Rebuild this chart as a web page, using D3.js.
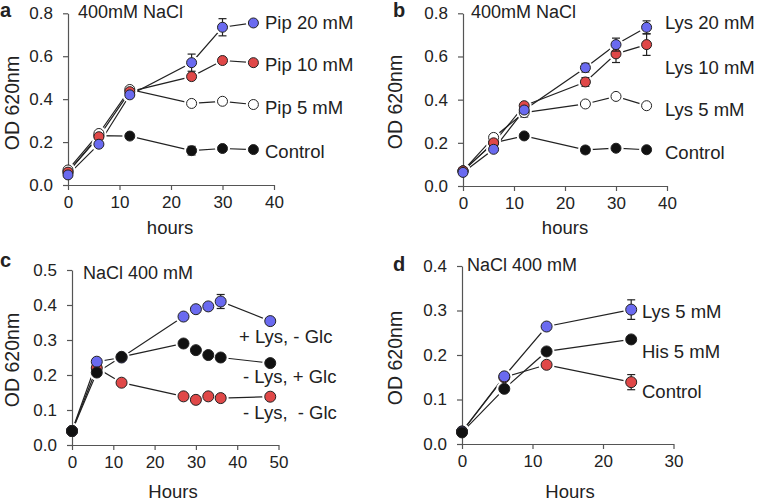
<!DOCTYPE html>
<html>
<head>
<meta charset="utf-8">
<script src="https://cdn.jsdelivr.net/npm/d3@7"></script>
<style>
body { margin: 0; background: #fff; }
text { font-family: "Liberation Sans", Arial, sans-serif; fill: #222; }
</style>
</head>
<body>
<div id="d3container"></div>
<script>
// panel a: piperidine, 400mM NaCl
var aHours = [0, 6, 12, 24, 30, 36];
var aControl = [0.06, 0.23, 0.228, 0.16, 0.17, 0.165];
var aControlErr = [0, 0, 0, 0.02, 0, 0];
var aPip5 = [0.07, 0.24, 0.445, 0.38, 0.39, 0.375];
var aPip10 = [0.06, 0.225, 0.435, 0.505, 0.58, 0.57];
var aPip20 = [0.047, 0.19, 0.42, 0.57, 0.735, 0.755];
var aPip20Err = [0, 0, 0, 0.04, 0.04, 0];

// panel b: lysine, 400mM NaCl
var bHours = [0, 6, 12, 24, 30, 36];
var bControl = [0.07, 0.2, 0.232, 0.167, 0.175, 0.168];
var bControlErr = [0, 0, 0, 0.015, 0, 0];
var bLys5 = [0.07, 0.225, 0.34, 0.38, 0.415, 0.372];
var bLys5Err = [0, 0, 0.02, 0, 0, 0];
var bLys10 = [0.07, 0.2, 0.372, 0.482, 0.612, 0.655];
var bLys10Err = [0, 0, 0, 0.02, 0.04, 0.05];
var bLys20 = [0.063, 0.17, 0.352, 0.548, 0.655, 0.735];
var bLys20Err = [0, 0, 0, 0.02, 0.03, 0.03];

// panel c: lysine / glucose
var cHours = [0, 6, 12, 27, 30, 33, 36, 48];
var cNoLysNoGlc = [0.04, 0.22, 0.178, 0.139, 0.129, 0.139, 0.134, 0.138];
var cLysNoGlc = [0.04, 0.238, 0.25, 0.367, 0.388, 0.396, 0.41, 0.354];
var cLysNoGlcErr = [0, 0, 0, 0, 0, 0, 0.02, 0];
var cNoLysGlc = [0.04, 0.207, 0.252, 0.29, 0.271, 0.257, 0.25, 0.234];

// panel d: lysine vs histidine
var dHours = [0, 6, 12, 24];
var dControl = [0.028, 0.15, 0.178, 0.139];
var dControlErr = [0, 0, 0, 0.017];
var dLys5 = [0.028, 0.152, 0.264, 0.302];
var dLys5Err = [0, 0, 0, 0.022];
var dHis5 = [0.026, 0.124, 0.208, 0.235];

var blue = '#6a6af0', red = '#e04848', black = '#111', white = '#fff';

var svg = d3.select('#d3container')
    .append('svg')
    .attr('width', 757)
    .attr('height', 503);

function drawPanel(p) {
    var x = d3.scaleLinear().domain([0, p.xMax]).range([p.x0, p.x1]);
    var y = d3.scaleLinear().domain([0, p.yMax]).range([p.y0, p.y1]);
    var g = svg.append('g');

    var line = d3.line()
        .x(function (d) { return x(d.t); })
        .y(function (d) { return y(d.v); });

    var series = p.series.map(function (s) {
        return {
            fill: s.fill,
            pts: p.hours.map(function (t, i) {
                return {t: t, v: s.values[i], e: s.err ? s.err[i] : 0};
            })
        };
    });

    series.forEach(function (s) {
        g.append('path')
            .attr('d', line(s.pts))
            .attr('fill', 'none')
            .attr('stroke', '#222')
            .attr('stroke-width', 1.2);
    });
    // white rings so segments stop short of the markers
    series.forEach(function (s) {
        g.selectAll(null).data(s.pts).enter().append('circle')
            .attr('cx', function (d) { return x(d.t); })
            .attr('cy', function (d) { return y(d.v); })
            .attr('r', p.r + 2.5)
            .attr('fill', white);
    });

    var xAxis = d3.axisBottom(x).tickValues(d3.range(0, p.xMax + 1, 10))
        .tickSize(5).tickSizeOuter(0).tickPadding(6);
    var yAxis = d3.axisLeft(y).ticks(p.yMax / p.yStep).tickFormat(d3.format('.1f'))
        .tickSize(5).tickSizeOuter(0).tickPadding(10);

    var gx = g.append('g').attr('transform', 'translate(0,' + p.y0 + ')').call(xAxis);
    var gy = g.append('g').attr('transform', 'translate(' + p.x0 + ',0)').call(yAxis);
    [gx, gy].forEach(function (a) {
        a.selectAll('path, line').attr('stroke', '#555').attr('stroke-width', 1.2);
        a.selectAll('text').style('font-size', '17px').attr('fill', '#222')
            .style('font-family', '"Liberation Sans", Arial, sans-serif');
    });

    series.forEach(function (s) {
        var eb = s.pts.filter(function (d) { return d.e > 0; });
        eb.forEach(function (d) {
            var cx = x(d.t);
            g.append('line').attr('x1', cx).attr('x2', cx)
                .attr('y1', y(d.v - d.e)).attr('y2', y(d.v + d.e))
                .attr('stroke', '#222').attr('stroke-width', 1.2);
            [d.v - d.e, d.v + d.e].forEach(function (v) {
                g.append('line').attr('x1', cx - 4).attr('x2', cx + 4)
                    .attr('y1', y(v)).attr('y2', y(v))
                    .attr('stroke', '#222').attr('stroke-width', 1.2);
            });
        });
        g.selectAll(null).data(s.pts).enter().append('circle')
            .attr('cx', function (d) { return x(d.t); })
            .attr('cy', function (d) { return y(d.v); })
            .attr('r', p.r)
            .attr('fill', s.fill)
            .attr('stroke', '#222')
            .attr('stroke-width', 1);
    });

    p.labels.forEach(function (l) {
        g.append('text').attr('x', l[1]).attr('y', l[2])
            .attr('dy', '0.35em').style('font-size', '18.5px')
            .style('white-space', 'pre').text(l[0]);
    });

    g.append('text').attr('x', p.letter[0]).attr('y', p.letter[1])
        .attr('dy', '0.35em').style('font-size', '20px').style('font-weight', 'bold')
        .text(p.letter[2]);
    g.append('text').attr('x', p.title[0]).attr('y', p.title[1])
        .attr('dy', '0.35em').style('font-size', '18px').text(p.title[2]);
    g.append('text').attr('transform', 'translate(' + p.ylab[0] + ',' + p.ylab[1] + ') rotate(-90)')
        .attr('text-anchor', 'middle').attr('dy', '0.35em').style('font-size', '19.5px')
        .text('OD 620nm');
    g.append('text').attr('x', p.xlab[0]).attr('y', p.xlab[1])
        .attr('text-anchor', 'middle').attr('dy', '0.35em').style('font-size', '18.5px')
        .text(p.xlab[2]);
}

drawPanel({
    x0: 68, x1: 274, y0: 185, y1: 13.3, xMax: 40, yMax: 0.8, yStep: 0.2, r: 5,
    hours: aHours,
    series: [
        {values: aControl, err: aControlErr, fill: black},
        {values: aPip5, fill: white},
        {values: aPip10, fill: red},
        {values: aPip20, err: aPip20Err, fill: blue}
    ],
    labels: [['Pip 20 mM', 265, 23], ['Pip 10 mM', 265, 65], ['Pip 5 mM', 265, 108], ['Control', 265, 152]],
    letter: [0, 10, 'a'], title: [78, 12, '400mM NaCl'], ylab: [12, 103], xlab: [170, 228, 'hours']
});

drawPanel({
    x0: 463, x1: 667, y0: 186, y1: 13.3, xMax: 40, yMax: 0.8, yStep: 0.2, r: 5,
    hours: bHours,
    series: [
        {values: bControl, err: bControlErr, fill: black},
        {values: bLys5, err: bLys5Err, fill: white},
        {values: bLys10, err: bLys10Err, fill: red},
        {values: bLys20, err: bLys20Err, fill: blue}
    ],
    labels: [['Lys 20 mM', 665, 23], ['Lys 10 mM', 665, 68], ['Lys 5 mM', 665, 110], ['Control', 665, 153]],
    letter: [393, 10, 'b'], title: [471, 12, '400mM NaCl'], ylab: [395, 102], xlab: [565, 228, 'hours']
});

drawPanel({
    x0: 72, x1: 278.5, y0: 445, y1: 270, xMax: 50, yMax: 0.5, yStep: 0.1, r: 5.5,
    hours: cHours,
    series: [
        {values: cNoLysNoGlc, fill: red},
        {values: cLysNoGlc, err: cLysNoGlcErr, fill: blue},
        {values: cNoLysGlc, fill: black}
    ],
    labels: [['+ Lys, - Glc', 239, 337], ['- Lys, + Glc', 243, 377], ['- Lys,  - Glc', 243, 413]],
    letter: [0, 260, 'c'], title: [83, 273, 'NaCl 400 mM'], ylab: [12, 360], xlab: [173, 492, 'Hours']
});

drawPanel({
    x0: 462, x1: 673.5, y0: 444, y1: 266, xMax: 30, yMax: 0.4, yStep: 0.1, r: 5.5,
    hours: dHours,
    series: [
        {values: dControl, err: dControlErr, fill: red},
        {values: dLys5, err: dLys5Err, fill: blue},
        {values: dHis5, fill: black}
    ],
    labels: [['Lys 5 mM', 642, 312], ['His 5 mM', 642, 352], ['Control', 642, 392]],
    letter: [393, 264, 'd'], title: [467, 265, 'NaCl 400 mM'], ylab: [395, 358], xlab: [570, 492, 'Hours']
});
</script>
</body>
</html>
